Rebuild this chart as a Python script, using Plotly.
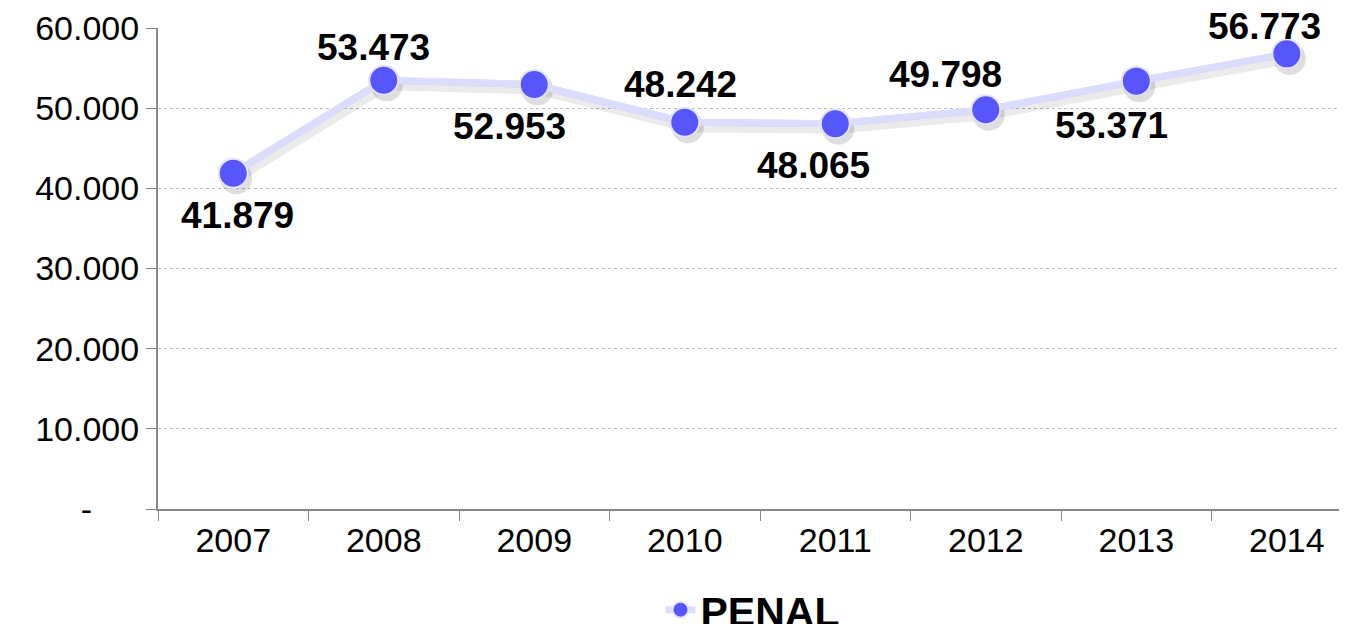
import plotly.graph_objects as go

#--- dados
anos = ['2007', '2008', '2009', '2010', '2011', '2012', '2013', '2014']
penal = [41879, 53473, 52953, 48242, 48065, 49798, 53371, 56773]
rotulos = ['41.879', '53.473', '52.953', '48.242', '48.065', '49.798', '53.371', '56.773']
y_ticks = [0, 10000, 20000, 30000, 40000, 50000, 60000]
y_ticktext = ['-\u00a0\u00a0\u00a0\u00a0\u00a0', '10.000', '20.000', '30.000', '40.000', '50.000', '60.000']

#--- posição dos rótulos (px em relação ao ponto)
desloc_x = [4, -10, -25, -4, -22, -40, -25, -22]
desloc_y = [-42, 33, -42, 38, -42, 35, -44, 27]

fonte = 'Liberation Sans, Arial, sans-serif'

linha = dict(color='#DCDCFC', width=7)
marcador = dict(color='#5656FA', size=29, line=dict(color='#E4E4FF', width=2))

#--- gráfico
# a página tem margem de 8px no body, por isso a figura é 8px menor
fig = go.Figure()
# série principal (eixos base, legenda)
fig.add_trace(
    go.Scatter(x=anos, y=penal, name='<b>PENAL</b>', mode='lines+markers',
               line=linha, marker=marcador, cliponaxis=False)
)
# sombra: mesma série em eixos deslocados alguns px
fig.add_trace(
    go.Scatter(x=anos, y=penal, mode='lines+markers', xaxis='x2', yaxis='y2',
               line=dict(color='rgba(0,0,0,0.08)', width=10),
               marker=dict(color='rgba(0,0,0,0.13)', size=32),
               showlegend=False, hoverinfo='skip', cliponaxis=False)
)
# série redesenhada por cima da sombra
fig.add_trace(
    go.Scatter(x=anos, y=penal, mode='lines+markers', xaxis='x3', yaxis='y3',
               line=linha, marker=marcador, showlegend=False, cliponaxis=False)
)

anotacoes = []
for i, (valor, rotulo) in enumerate(zip(penal, rotulos)):
    anotacoes.append(dict(x=i, y=valor, xref='x', yref='y', text='<b>' + rotulo + '</b>',
                          showarrow=False, xshift=desloc_x[i], yshift=desloc_y[i],
                          font=dict(family=fonte, size=37, color='black')))

px_x = 1 / 150.6
px_y = 60000 / 481
fig.update_layout(
    width=1339, height=616,
    plot_bgcolor='white', paper_bgcolor='white',
    margin=dict(l=150, r=0, t=20, b=115, autoexpand=False),
    font=dict(family=fonte, size=34, color='black'),
    showlegend=True,
    annotations=anotacoes,
    legend=dict(x=0.50, y=-0.21, xanchor='center', yanchor='middle',
                font=dict(family=fonte, size=41, color='black'),
                bgcolor='rgba(0,0,0,0)'),
    xaxis=dict(type='category', range=[-0.5, 7.4],
               showline=True, linecolor='#888888', linewidth=2,
               ticks='outside', tickson='boundaries', ticklen=10, tickcolor='#888888',
               showgrid=False, tickfont=dict(size=34), automargin=False),
    yaxis=dict(range=[0, 60000], tickvals=y_ticks, ticktext=y_ticktext,
               showline=True, linecolor='#888888', linewidth=2,
               ticks='outside', ticklen=10, tickcolor='#888888',
               showgrid=True, gridcolor='#BBBBBB', griddash='dot', gridwidth=1,
               zeroline=False, tickfont=dict(size=34), automargin=False),
    xaxis2=dict(type='category', overlaying='x', range=[-0.5 - 3 * px_x, 7.4 - 3 * px_x],
                visible=False),
    yaxis2=dict(overlaying='y', range=[5 * px_y, 60000 + 5 * px_y], visible=False),
    xaxis3=dict(type='category', overlaying='x', range=[-0.5, 7.4], visible=False),
    yaxis3=dict(overlaying='y', range=[0, 60000], visible=False),
)

fig.write_html('out.html')
